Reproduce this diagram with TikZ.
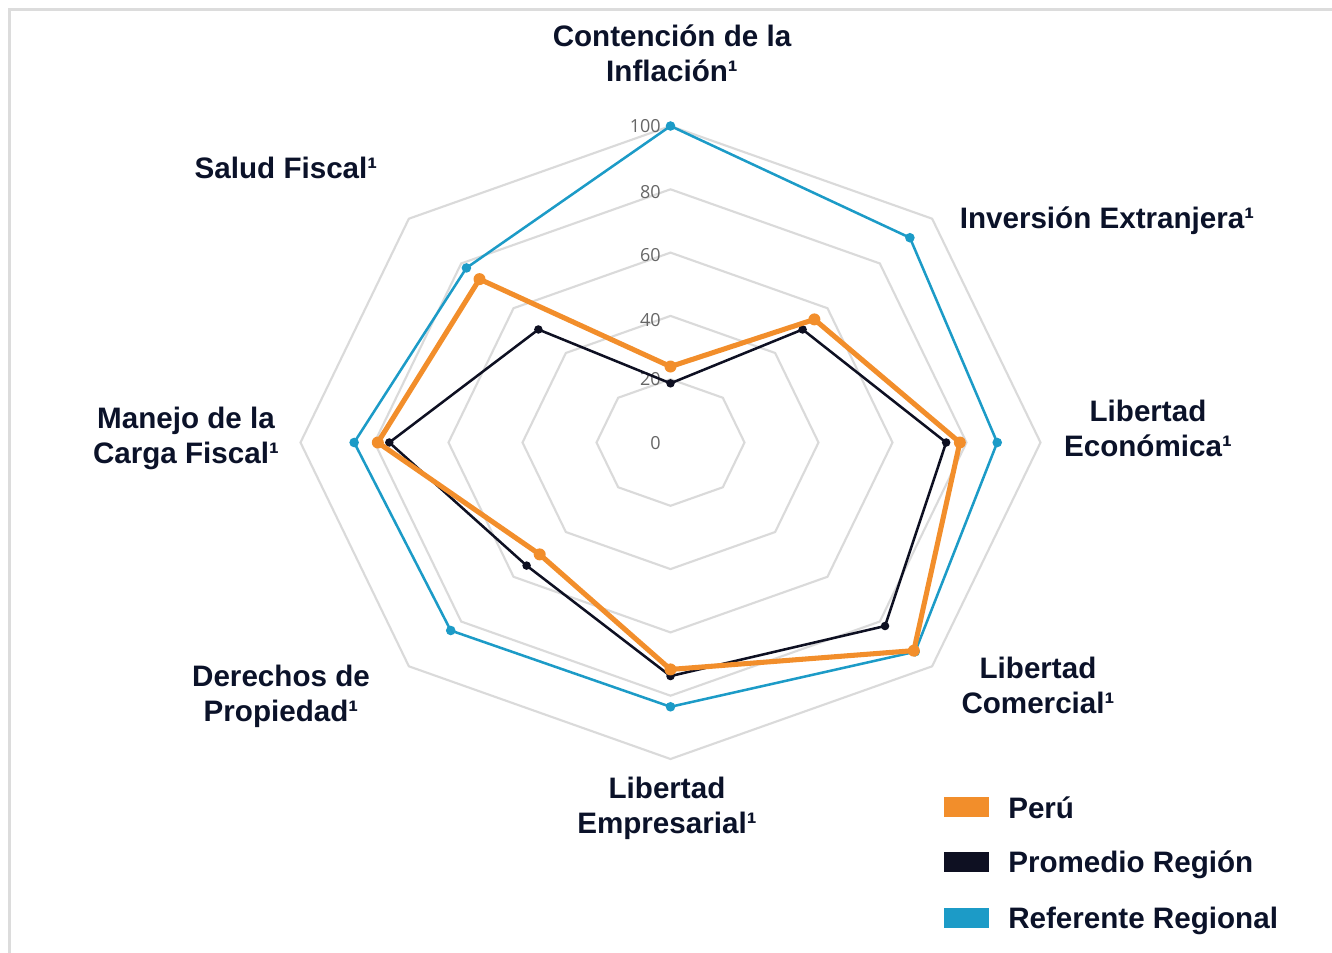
\documentclass[tikz,border=0pt]{standalone}
\usepackage{fontspec}
\setmainfont{Liberation Sans}
\newfontfamily\tickfont{Open Sans}
\definecolor{perOrange}{HTML}{F28E2B}
\definecolor{regNavy}{HTML}{0E1022}
\definecolor{refBlue}{HTML}{1C9BC7}
\definecolor{txtNavy}{HTML}{0B1229}
\definecolor{gridGray}{HTML}{DADADA}
\definecolor{frameGray}{HTML}{DCDCDC}
\definecolor{tickGray}{HTML}{666666}
\newcommand\labfont{\fontsize{22.2pt}{26.2pt}\selectfont\bfseries}
\newcommand\radarseries[5]{%
  \foreach \v [count=\k from 0] in {#5}
    \coordinate (#1\k) at ({670.5+3.7*\v*sin(45*\k)},{442.5-3.165*\v*cos(45*\k)});
  \draw[draw=#2, line width=#3, line join=round]
    (#10)--(#11)--(#12)--(#13)--(#14)--(#15)--(#16)--(#17)--cycle;
  \foreach \k in {0,...,7} \fill[#2] (#1\k) circle (#4);
}
\tikzset{
  gridline/.style={draw=gridGray, line width=1.6pt, line join=miter},
  lab/.style={text=txtNavy, font=\labfont, align=center, inner sep=0pt},
  tick/.style={text=tickGray, font=\tickfont\fontsize{13.5pt}{15pt}\selectfont, anchor=east, inner sep=0pt},
  legsq/.style={minimum width=33.75pt, minimum height=15pt, inner sep=0pt, draw=none},
}
\begin{document}
\begin{tikzpicture}[x=0.75pt,y=-0.75pt]
\useasboundingbox (0,0) rectangle (1332,953);
% frame
\draw[frameGray, line width=2.25pt] (9,953) -- (9,9.5) -- (1332,9.5);
% grid
\foreach \v in {20,40,60,80,100}{
  \foreach \k in {0,...,7}
    \coordinate (g\k) at ({670.5+3.7*\v*sin(45*\k)},{442.5-3.165*\v*cos(45*\k)});
  \draw[gridline] (g0)--(g1)--(g2)--(g3)--(g4)--(g5)--(g6)--(g7)--cycle;
}
% ticks
\node[tick] (t100) at (661,126) {100};
\node[tick] (t80) at (661,192) {80};
\node[tick] (t60) at (661,255) {60};
\node[tick] (t40) at (661,320) {40};
\node[tick] (t20) at (661,379) {20};
\node[tick] (t0) at (661,443) {0};
% series
\radarseries{B}{refBlue}{1.9pt}{3.6pt}{100,91.5,88.3,93.5,83.5,84,85.5,78}
\radarseries{N}{regNavy}{1.9pt}{3.2pt}{18.7,50.5,74.5,82,73.8,55,76,50.5}
\radarseries{O}{perOrange}{3.8pt}{4.5pt}{24,55,78.2,93,71.7,50,79.1,73}
% axis labels
\node[lab] (l0) at (672,53) {Contención de la\\Inflación¹};
\node[lab] (l1) at (1107,221) {Inversión Extranjera¹};
\node[lab] (l2) at (1148,428) {Libertad\\Económica¹};
\node[lab] (l3) at (1038,685) {Libertad\\Comercial¹};
\node[lab] (l4) at (667,808) {Libertad\\Empresarial¹};
\node[lab] (l5) at (281,696) {Derechos de\\Propiedad¹};
\node[lab] (l6) at (186,438) {Manejo de la\\Carga Fiscal¹};
\node[lab] (l7) at (286,168) {Salud Fiscal¹};
% legend
\node[legsq, fill=perOrange] (sq1) at (966.5,807) {};
\node[legsq, fill=regNavy] (sq2) at (966.5,862) {};
\node[legsq, fill=refBlue] (sq3) at (966.5,918) {};
\node[lab, anchor=west] (lt1) at (1008,808) {Perú};
\node[lab, anchor=west] (lt2) at (1008,865) {Promedio Región};
\node[lab, anchor=west] (lt3) at (1008,921) {Referente Regional};
\end{tikzpicture}
\end{document}
